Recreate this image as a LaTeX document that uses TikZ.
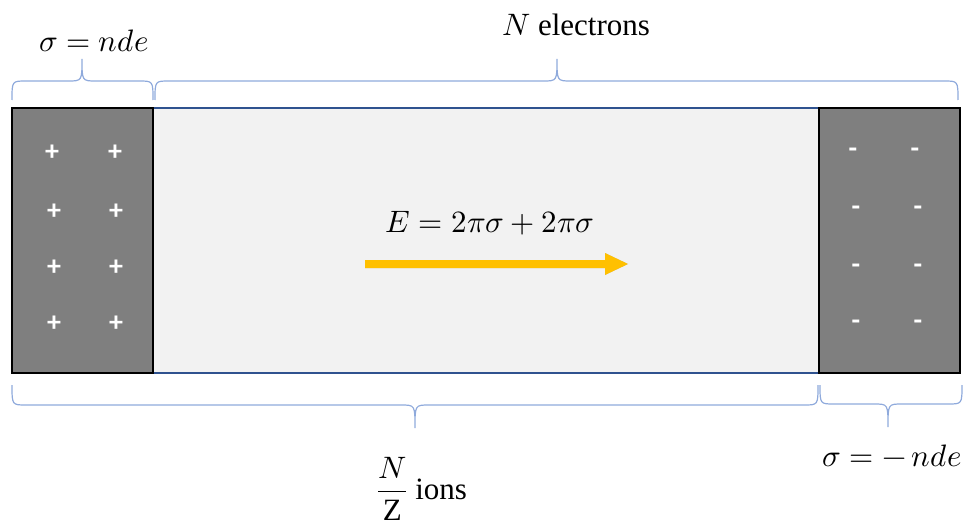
\documentclass[tikz,border=0pt]{standalone}
\usepackage{amsmath}
\usepackage{fontspec}
\usepackage{unicode-math}
\setmainfont{Liberation Serif}
\setmathfont{Latin Modern Math}
\newfontfamily\signfont{Carlito}
\usetikzlibrary{positioning}
\definecolor{plategray}{RGB}{127,127,127}
\definecolor{gapfill}{RGB}{242,242,242}
\definecolor{gapline}{RGB}{47,82,143}
\definecolor{bracecol}{RGB}{143,170,220}
\definecolor{arrowcol}{RGB}{255,192,0}
\tikzset{
  plate/.style={draw=black, line width=1.3pt, fill=plategray},
  gapbox/.style={draw=gapline, line width=1.3pt, fill=gapfill},
  bracestyle/.style={draw=bracecol, line width=1.2pt},
  sign/.style={text=white, font=\signfont\bfseries\fontsize{28}{30}\selectfont, inner sep=0pt},
  lbl/.style={font=\fontsize{31}{36}\selectfont, inner sep=0pt},
}
\newcommand{\officebrace}[6]{%
  \draw[bracestyle] (#1,#4) .. controls (#1,#5) and (#1,#5) .. ({#1+14},#5)
    -- ({#2-14},#5) .. controls (#2,#5) and (#2,#5) .. (#2,#6)
    .. controls (#2,#5) and (#2,#5) .. ({#2+14},#5)
    -- ({#3-14},#5) .. controls (#3,#5) and (#3,#5) .. (#3,#4);}
\newcommand{\fieldarrow}{%
  (as) ++(0,-4) -- ++(240,0) -- ++(0,-7) -- (ae) -- ++(-23,11) -- ++(0,-7) -- ++(-240,0) -- cycle}
\begin{document}
\begin{tikzpicture}[x=1pt,y=-1pt]
\useasboundingbox (0,0) rectangle (970,527);
% gap region and plates
\draw[gapbox] (153,108) rectangle (819,373);
\draw[plate] (12,108) rectangle (153,373);
\draw[plate] (819,108) rectangle (960,373);
% signs
\foreach \x/\y [count=\i] in {52/153,115/153,54/212,116/212,54/268,116/268,54/324,116/324}
  \node[sign] (p\i) at (\x,\y) {+};
\foreach \x/\y [count=\i] in {853/153,915/153,856/211,918/211,856/269,918/269,856/325,918/325}
  \node[sign] (m\i) at (\x,\y) {-};
% braces
\officebrace{12}{82}{153}{100}{81}{59}
\officebrace{155}{557}{958}{100}{81}{59}
\officebrace{12}{415}{818}{385}{405}{428}
\officebrace{820}{888}{962}{385}{404}{427}
% labels
\node[lbl] (sigtop) at (94,41) {$\sigma = nde$};
\node[lbl] (nel) at (576,25) {$N$ electrons};
\node[lbl] (efield) at (490,223) {$E = 2\pi\sigma + 2\pi\sigma$};
\node[lbl] (ions) at (422,489) {$\dfrac{N}{\mathrm{Z}}$ ions};
\node[lbl] (sigbot) at (892,456) {$\sigma = -\,nde$};
% field arrow
\node[coordinate] (as) at (365,264) {};
\node[coordinate] (ae) at (628,264) {};
\begin{scope}[shift={(2,4)}]
  \fill[black, opacity=0.18] \fieldarrow;
\end{scope}
\fill[arrowcol] \fieldarrow;
\end{tikzpicture}
\end{document}
